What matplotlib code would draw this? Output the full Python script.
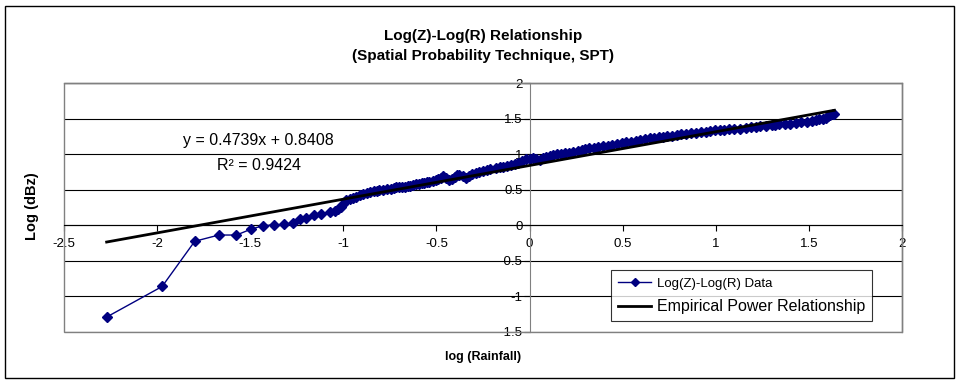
import matplotlib
matplotlib.use('Agg')
from matplotlib import pyplot as plt
from matplotlib.patches import Rectangle
import numpy as np

plt.rcParams['font.family'] = ['Liberation Sans', 'DejaVu Sans']

# log(R) values
logR = [-2.271, -1.973, -1.798, -1.669, -1.574, -1.497, -1.431, -1.372, -1.319, -1.27,
        -1.231, -1.199, -1.158, -1.122, -1.07, -1.045, -1.027, -1.015, -1.002, -0.984,
        -0.966, -0.95, -0.93, -0.91, -0.895, -0.875, -0.855, -0.835, -0.82, -0.806,
        -0.785, -0.765, -0.745, -0.73, -0.716, -0.70, -0.685, -0.67, -0.655, -0.64,
        -0.627, -0.61, -0.595, -0.58, -0.565, -0.55, -0.538, -0.52, -0.505, -0.49,
        -0.478, -0.466, -0.45, -0.43, -0.415, -0.40, -0.39, -0.377, -0.36, -0.34,
        -0.325, -0.31, -0.29, -0.27, -0.25, -0.23, -0.21, -0.18, -0.16, -0.14,
        -0.12, -0.10, -0.08, -0.06, -0.04, -0.02, 0.0, 0.02, 0.035, 0.054,
        0.07, 0.09, 0.11, 0.125, 0.15, 0.17, 0.19, 0.213, 0.235, 0.26,
        0.28, 0.30, 0.32, 0.345, 0.37, 0.395, 0.42, 0.445, 0.47, 0.495,
        0.52, 0.545, 0.57, 0.595, 0.62, 0.645, 0.67, 0.695, 0.714, 0.74,
        0.765, 0.79, 0.815, 0.84, 0.865, 0.893, 0.92, 0.945, 0.97, 0.995,
        1.02, 1.045, 1.071, 1.10, 1.13, 1.16, 1.19, 1.214, 1.24, 1.27,
        1.30, 1.32, 1.34, 1.37, 1.40, 1.43, 1.46, 1.49, 1.518, 1.536,
        1.554, 1.575, 1.59, 1.605, 1.616, 1.627, 1.637]
# log(Z) values
logZ = [-1.29, -0.86, -0.225, -0.137, -0.137, -0.056, -0.005, 0.005, 0.014, 0.03,
        0.085, 0.10, 0.14, 0.155, 0.18, 0.20, 0.235, 0.26, 0.305, 0.35,
        0.37, 0.38, 0.40, 0.42, 0.446, 0.46, 0.47, 0.475, 0.48, 0.49,
        0.50, 0.505, 0.51, 0.525, 0.54, 0.535, 0.54, 0.545, 0.55, 0.555,
        0.56, 0.575, 0.585, 0.59, 0.60, 0.61, 0.615, 0.625, 0.64, 0.655,
        0.67, 0.69, 0.67, 0.63, 0.65, 0.68, 0.70, 0.71, 0.69, 0.66,
        0.69, 0.72, 0.735, 0.75, 0.765, 0.78, 0.79, 0.80, 0.815, 0.825,
        0.835, 0.845, 0.86, 0.88, 0.905, 0.925, 0.935, 0.94, 0.935, 0.915,
        0.94, 0.96, 0.975, 0.985, 0.995, 1.005, 1.01, 1.02, 1.035, 1.045,
        1.055, 1.07, 1.08, 1.09, 1.10, 1.11, 1.12, 1.127, 1.14, 1.15,
        1.165, 1.175, 1.19, 1.20, 1.21, 1.22, 1.23, 1.235, 1.24, 1.25,
        1.26, 1.27, 1.28, 1.29, 1.295, 1.30, 1.31, 1.315, 1.325, 1.335,
        1.34, 1.345, 1.35, 1.355, 1.36, 1.37, 1.375, 1.38, 1.39, 1.40,
        1.41, 1.415, 1.42, 1.425, 1.43, 1.435, 1.445, 1.45, 1.46, 1.475,
        1.49, 1.50, 1.505, 1.53, 1.55, 1.565, 1.57]

slope = 0.4739
intercept = 0.8408
r2 = 0.9424

fig = plt.figure(figsize=(9.59, 3.83), dpi=100)
ax = fig.add_axes([64/959, 1-332/383, (902-64)/959, (332-83)/383])

ax.plot(logR, logZ, color='#000080', lw=1, marker='D', markersize=5,
        markerfacecolor='#000080', markeredgecolor='#000080', label='Log(Z)-Log(R) Data', zorder=3)
xfit = np.array([min(logR), max(logR)])
ax.plot(xfit, slope*xfit + intercept, color='black', lw=2, label='Empirical Power Relationship', zorder=4)

ax.set_xlim(-2.5, 2)
ax.set_ylim(-1.5, 2)
ax.set_xticks(np.arange(-2.5, 2.01, 0.5))
ax.set_yticks(np.arange(-1.5, 2.01, 0.5))
ax.set_xticklabels(['-2.5', '-2', '-1.5', '-1', '-0.5', '0', '0.5', '1', '1.5', '2'])
ax.set_yticklabels(['-1.5', '-1', '-0.5', '0', '0.5', '1', '1.5', '2'])
ax.yaxis.grid(True, color='black', lw=0.8)
ax.set_axisbelow(True)

for s in ['top', 'right']:
    ax.spines[s].set_color('#808080')
    ax.spines[s].set_linewidth(1)
ax.spines['left'].set_position(('data', 0))
ax.spines['bottom'].set_position(('data', 0))
ax.spines['left'].set_color('#808080')
ax.spines['bottom'].set_color('black')
ax.add_patch(Rectangle((0, 0), 1, 1, transform=ax.transAxes, fill=False,
                       edgecolor='#808080', lw=1, zorder=1, clip_on=False))
ax.tick_params(axis='both', direction='out', length=4, width=0.8, labelsize=9.5, color='black')
ax.tick_params(axis='x', pad=5)
ax.tick_params(axis='y', pad=1)

fig.text(483/959, 1-36/383, 'Log(Z)-Log(R) Relationship', ha='center', va='center',
         fontsize=11, fontweight='bold')
fig.text(483/959, 1-56/383, '(Spatial Probability Technique, SPT)', ha='center', va='center',
         fontsize=11, fontweight='bold')
fig.text(483/959, 1-357/383, 'log (Rainfall)', ha='center', va='center', fontsize=9, fontweight='bold')
fig.text(32/959, 1-206/383, 'Log (dBz)', ha='center', va='center', fontsize=10.5,
         fontweight='bold', rotation=90)
fig.text(258/959, 1-141/383, 'y = %.4fx + %.4f' % (slope, intercept), ha='center', va='center', fontsize=11.5)
fig.text(259/959, 1-165/383, 'R² = %.4f' % r2, ha='center', va='center', fontsize=11.5)

leg = ax.legend(loc='upper right', bbox_to_anchor=(872/959, 1-270/383),
                bbox_transform=fig.transFigure, borderaxespad=0, frameon=True,
                fancybox=False, handlelength=2.4, handletextpad=0.4, borderpad=0.5,
                labelspacing=0.65, markerscale=0.8)
leg.get_frame().set_edgecolor('black')
leg.get_frame().set_linewidth(0.8)
leg.get_texts()[0].set_fontsize(9.5)
leg.get_texts()[1].set_fontsize(11.5)

fig.add_artist(Rectangle((5/959, 1-378/383), 949/959, 372/383, transform=fig.transFigure,
                         fill=False, edgecolor='black', lw=1))

fig.savefig('out.png', dpi=100)
